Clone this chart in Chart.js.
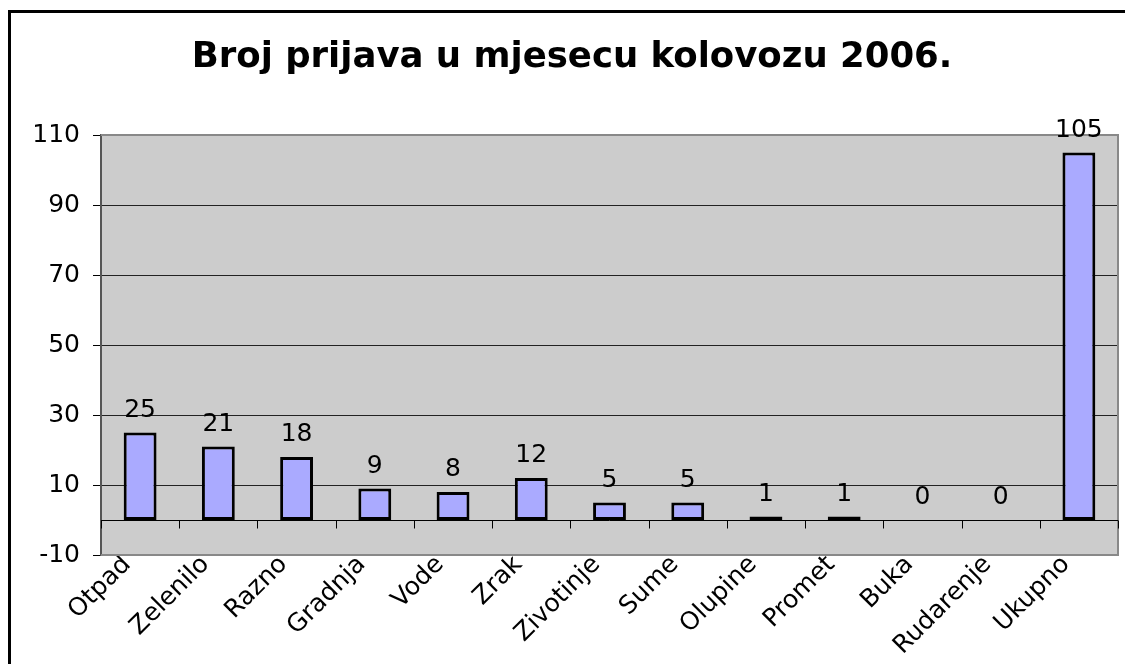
<!DOCTYPE html>
<html>
<head>
<meta charset="utf-8">
<script src="https://cdn.jsdelivr.net/npm/chart.js@4/dist/chart.umd.min.js"></script>
<style>
  body { margin: 0; background: #fff; overflow: hidden; }
  #wrap { position: absolute; left: 0; top: 0; width: 1125px; height: 664px; }
  #frame { position: absolute; left: 8px; top: 10px; width: 1200px; height: 800px; border: 3px solid #000; pointer-events: none; }
</style>
</head>
<body>
<div id="frame"></div>
<div id="wrap"><canvas id="chart"></canvas></div>
<script>
const categories = ['Otpad', 'Zelenilo', 'Razno', 'Gradnja', 'Vode', 'Zrak', 'Zivotinje', 'Sume', 'Olupine', 'Promet', 'Buka', 'Rudarenje', 'Ukupno'];
const counts = [25, 21, 18, 9, 8, 12, 5, 5, 1, 1, 0, 0, 105];
const yTicks = [-10, 10, 30, 50, 70, 90, 110];

const FONT = 'DejaVu Sans';

// grey plot area like the old Excel charts
const plotArea = {
  id: 'plotArea',
  beforeDraw(chart) {
    const { ctx, chartArea: a } = chart;
    ctx.save();
    ctx.fillStyle = '#cccccc';
    ctx.fillRect(a.left, a.top, a.right - a.left, a.bottom - a.top);
    ctx.restore();
  },
  beforeDatasetsDraw(chart) {
    const { ctx, chartArea: a, scales } = chart;
    const x = scales.x, y = scales.y;
    ctx.save();
    // outer border of the plot, right and bottom
    ctx.strokeStyle = '#888';
    ctx.lineWidth = 2;
    ctx.beginPath();
    ctx.moveTo(a.left, a.top);
    ctx.lineTo(a.right, a.top);
    ctx.lineTo(a.right, a.bottom);
    ctx.lineTo(a.left, a.bottom);
    ctx.stroke();
    // category axis at zero with ticks between categories
    const y0 = Math.round(y.getPixelForValue(0)) + 0.5;
    ctx.strokeStyle = '#000';
    ctx.lineWidth = 1;
    ctx.beginPath();
    ctx.moveTo(a.left, y0);
    ctx.lineTo(a.right, y0);
    const n = categories.length;
    const step = (x.getPixelForTick(n - 1) - x.getPixelForTick(0)) / (n - 1);
    for (let i = 0; i <= n; i++) {
      const px = Math.round(x.getPixelForTick(0) - step / 2 + i * step) + 0.5;
      ctx.moveTo(px, y0);
      ctx.lineTo(px, y0 + 8);
    }
    ctx.stroke();
    ctx.restore();
  }
};

const valueLabels = {
  id: 'valueLabels',
  afterDatasetsDraw(chart) {
    const { ctx } = chart;
    const meta = chart.getDatasetMeta(0);
    ctx.save();
    ctx.font = '25px "' + FONT + '"';
    ctx.fillStyle = '#000';
    ctx.textAlign = 'center';
    ctx.textBaseline = 'alphabetic';
    meta.data.forEach((bar, i) => {
      ctx.fillText(String(counts[i]), bar.x, bar.y - 16);
    });
    ctx.restore();
  }
};

new Chart(document.getElementById('chart'), {
  type: 'bar',
  data: {
    labels: categories,
    datasets: [{
      data: counts,
      backgroundColor: '#aaaaff',
      borderColor: '#000',
      borderWidth: 3,
      borderSkipped: false,
      barPercentage: 0.42,
      categoryPercentage: 1
    }]
  },
  options: {
    responsive: true,
    maintainAspectRatio: false,
    animation: false,
    layout: { padding: { left: 26, right: 7, top: 0, bottom: 0 } },
    plugins: {
      legend: { display: false },
      tooltip: { enabled: false },
      title: {
        display: true,
        text: 'Broj prijava u mjesecu kolovozu 2006.',
        color: '#000',
        font: { family: FONT, size: 35.5, weight: 'bold' },
        padding: { top: 36, bottom: 56.4 }
      }
    },
    scales: {
      x: {
        afterFit: s => { s.height = 109; },
        grid: { display: false, drawTicks: false },
        border: { display: false },
        ticks: {
          color: '#000',
          font: { family: FONT, size: 25 },
          autoSkip: false,
          minRotation: 45,
          maxRotation: 45,
          padding: -5,
          labelOffset: -13
        }
      },
      y: {
        min: -10,
        max: 110,
        afterBuildTicks: s => { s.ticks = yTicks.map(v => ({ value: v })); },
        afterFit: s => { s.width = 75; },
        grid: {
          color: c => (c.tick && (c.tick.value === 110 || c.tick.value === -10)) ? '#888' : '#222',
          lineWidth: 1,
          tickLength: 8,
          tickColor: '#000'
        },
        border: { display: true, color: '#555', width: 2 },
        ticks: {
          color: '#000',
          font: { family: FONT, size: 25 },
          padding: 13
        }
      }
    }
  },
  plugins: [plotArea, valueLabels]
});
</script>
</body>
</html>
